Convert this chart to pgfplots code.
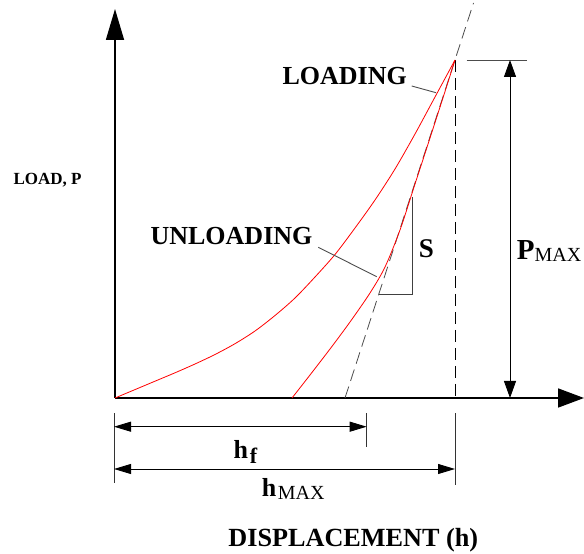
\documentclass[border=0pt]{standalone}
\usepackage{pgfplots}
\pgfplotsset{compat=1.18}
\usepackage{fontspec}
\setmainfont{Liberation Serif}
\usetikzlibrary{arrows.meta}

% label fonts
\newcommand\lbl{\fontsize{26bp}{30bp}\selectfont\bfseries}
\newcommand\sub[1]{{\normalfont\fontsize{20bp}{22bp}\selectfont #1}}

% load-displacement curves (displacement h, load P)
\pgfplotstableread{
h    P
0    0
20   8.4
40   16.8
60   25.2
80   34
100  43.5
120  54.3
140  67
160  82.5
180  100
200  121
220  143.5
240  170
260  198
280  229
300  264
320  301
340  338
}\loading

\pgfplotstableread{
h    P
177  0
195  23
215  49
235  76
255  105
270  131
285  168
300  214
315  260
330  306.5
340  338
}\unloading

\begin{document}
\begin{tikzpicture}
\begin{axis}[
  scale only axis, width=584bp, height=554bp,
  xmin=-115, xmax=469, ymin=-156, ymax=398,
  hide axis, clip=false,
]
% coordinate axes
\draw[line width=1.6bp, -{Triangle[length=31bp,width=18bp]}] (axis cs:0,0) -- (axis cs:0,389);
\draw[line width=1.6bp, -{Triangle[length=26bp,width=19bp]}] (axis cs:0,0) -- (axis cs:469,0);

% tangent to the unloading curve at peak load
\addplot[black!70, line width=0.8bp, dash pattern=on 12bp off 6bp] coordinates {(230,0) (358.5,395)};
% h_max marker
\addplot[black, line width=0.8bp, dash pattern=on 12bp off 6bp] coordinates {(340,338) (340,0)};

% curves
\addplot[red, line width=0.8bp, smooth] table {\loading};
\addplot[red, line width=0.8bp, smooth] table {\unloading};

% stiffness triangle
\draw[black!75, line width=0.9bp] (axis cs:297.3,200.7) -- (axis cs:297.3,103.7) -- (axis cs:264.3,103.7);

% P_max dimension
\draw[black!70, line width=0.9bp] (axis cs:351.7,338) -- (axis cs:411.7,338);
\draw[black, line width=0.9bp, {Triangle[length=17bp,width=12bp]}-{Triangle[length=17bp,width=12bp]}] (axis cs:395,0) -- (axis cs:395,338);

% h_f and h_max dimensions
\draw[black!80, line width=0.9bp] (axis cs:-1,-15.3) -- (axis cs:-1,-85.3);
\draw[black!80, line width=0.9bp] (axis cs:251.7,-15.3) -- (axis cs:251.7,-48.7);
\draw[black!80, line width=0.9bp] (axis cs:340,-15.3) -- (axis cs:340,-87);
\draw[black, line width=0.9bp, {Triangle[length=17bp,width=10bp]}-{Triangle[length=17bp,width=10bp]}] (axis cs:-1,-28.7) -- (axis cs:251.7,-28.7);
\draw[black, line width=0.9bp, {Triangle[length=17bp,width=10bp]}-{Triangle[length=17bp,width=10bp]}] (axis cs:-1,-71) -- (axis cs:340,-71);

% leaders
\draw[black!70, line width=0.9bp] (axis cs:296.7,312) -- (axis cs:321,305.3);
\draw[black!70, line width=0.9bp] (axis cs:203.3,150.7) -- (axis cs:261.7,121.3);

% labels
\node[anchor=base, inner sep=0] at (axis cs:229.7,313) {\lbl LOADING};
\node[anchor=base, inner sep=0] at (axis cs:116.5,153) {\lbl UNLOADING};
\node[anchor=base, inner sep=0] at (axis cs:-67.5,213) {\fontsize{17bp}{20bp}\selectfont\bfseries LOAD, P};
\node[anchor=base, inner sep=0] at (axis cs:311.3,140.3) {\fontsize{27bp}{30bp}\selectfont\bfseries S};
\node[anchor=base west, inner sep=0] at (axis cs:401.7,138) {\fontsize{29bp}{30bp}\selectfont\bfseries P\raisebox{-1.7bp}{\sub{MAX}}};
\node[anchor=base west, inner sep=0] at (axis cs:118.3,-60.3) {\lbl h\kern2bp\raisebox{-5bp}{\fontsize{22bp}{24bp}\selectfont\bfseries f}};
\node[anchor=base west, inner sep=0] at (axis cs:146.7,-98.7) {\lbl h\kern1.5bp\raisebox{-2.6bp}{\sub{MAX}}};
\node[anchor=base, inner sep=0] at (axis cs:238.3,-148.7) {\fontsize{26.2bp}{30bp}\selectfont\bfseries DISPLACEMENT (h)};

\coordinate (bl) at (axis cs:-115,-156);
\coordinate (tr) at (axis cs:469,398);
\end{axis}
\pgfresetboundingbox
\path (bl) rectangle (tr);
\end{tikzpicture}
\end{document}
